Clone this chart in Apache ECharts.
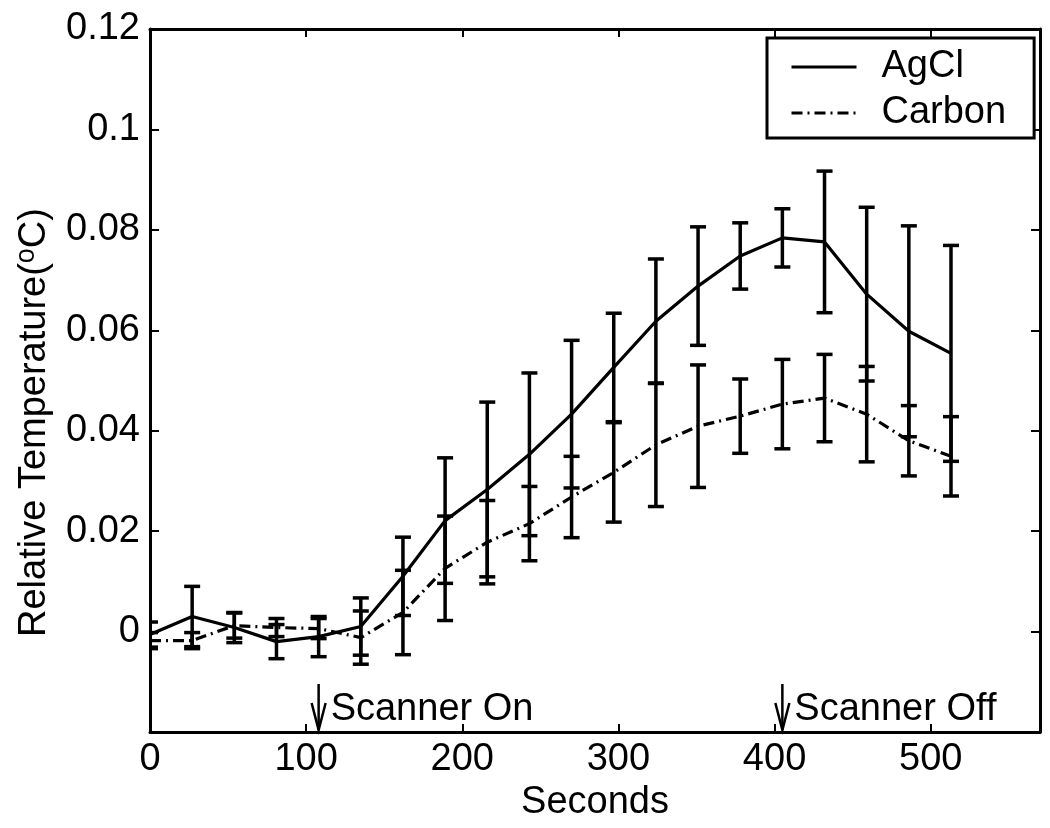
<!DOCTYPE html>
<html>
<head>
<meta charset="utf-8">
<script src="https://cdn.jsdelivr.net/npm/echarts@6/dist/echarts.min.js"></script>
<style>
html,body{margin:0;padding:0;background:#fff;}
#chart{width:1050px;height:828px;}
</style>
</head>
<body>
<div id="chart"></div>
<script>
// ---- data ----
const times = [0, 27, 54, 81, 108, 135, 162, 189, 216, 243, 270, 297, 324, 351, 378, 405, 432, 459, 486, 513];
const agclMean = [-0.0006, 0.0030, 0.0008, -0.0020, -0.0010, 0.0010, 0.0110, 0.0221, 0.0283, 0.0353, 0.0433, 0.0526, 0.0618, 0.0688, 0.0748, 0.0784, 0.0776, 0.0672, 0.0598, 0.0554];
const agclErr  = [0.0025, 0.0060, 0.0030, 0.0034, 0.0040, 0.0057, 0.0078, 0.0125, 0.0174, 0.0162, 0.0147, 0.0108, 0.0124, 0.0118, 0.0066, 0.0058, 0.0141, 0.0173, 0.0210, 0.0215];
const carbonMean = [-0.0018, -0.0018, 0.0012, 0.0008, 0.0006, -0.0012, 0.0038, 0.0126, 0.0178, 0.0215, 0.0268, 0.0317, 0.0372, 0.0409, 0.0429, 0.0453, 0.0465, 0.0433, 0.0380, 0.0349];
const carbonErr  = [0.0016, 0.0016, 0.0025, 0.0018, 0.0020, 0.0053, 0.0084, 0.0104, 0.0083, 0.0074, 0.0081, 0.0099, 0.0123, 0.0122, 0.0074, 0.0089, 0.0087, 0.0095, 0.0070, 0.0079];
const seriesNames = ['AgCl', 'Carbon'];
const scannerTimes = [108, 405];
const scannerLabels = ['Scanner On', 'Scanner Off'];
const xLabelName = 'Seconds';
const yLabelName = 'Relative Temperature({sup|o}C)';

// ---- chart ----
const FONT = 'Liberation Sans, Arial, Helvetica, sans-serif';
const chart = echarts.init(document.getElementById('chart'), null, {renderer: 'canvas'});

function errRender(params, api) {
  const x = api.value(0), lo = api.value(1), hi = api.value(2);
  const a = api.coord([x, hi]);
  const b = api.coord([x, lo]);
  const w = 8;
  const st = {stroke: '#000', lineWidth: 3.5};
  return {
    type: 'group',
    children: [
      {type: 'line', shape: {x1: a[0], y1: a[1], x2: b[0], y2: b[1]}, style: st},
      {type: 'line', shape: {x1: a[0] - w, y1: a[1], x2: a[0] + w, y2: a[1]}, style: st},
      {type: 'line', shape: {x1: b[0] - w, y1: b[1], x2: b[0] + w, y2: b[1]}, style: st}
    ]
  };
}

function annRender(params, api) {
  const x = api.value(0);
  const p = api.coord([x, api.value(1)]);
  const idx = api.value(2);
  const st = {stroke: '#000', lineWidth: 2.5, fill: null};
  return {
    type: 'group',
    children: [
      {type: 'line', shape: {x1: p[0], y1: p[1] - 48, x2: p[0], y2: p[1] - 2}, style: st},
      {type: 'polyline', shape: {points: [[p[0] - 7, p[1] - 29], [p[0], p[1] - 2], [p[0] + 7, p[1] - 29]]}, style: st},
      {type: 'text', x: p[0] + 12, y: p[1] - 22,
       style: {text: scannerLabels[idx], fontSize: 38, fontFamily: FONT, fill: '#000', align: 'left', verticalAlign: 'middle'}}
    ]
  };
}

const axisLineStyle = {color: '#000', width: 3};
const tickStyle = {color: '#000', width: 2};

const option = {
  animation: false,
  backgroundColor: '#fff',
  textStyle: {fontFamily: FONT},
  grid: {left: 150, right: 10, top: 29, bottom: 96},
  legend: {
    data: seriesNames,
    orient: 'vertical',
    left: 767,
    top: 38,
    backgroundColor: '#fff',
    borderColor: '#000',
    borderWidth: 3,
    borderRadius: 0,
    padding: [9, 28, 5, 23],
    itemWidth: 65,
    itemHeight: 14,
    itemGap: 6,
    itemStyle: {opacity: 0},
    lineStyle: {width: 3},
    textStyle: {fontSize: 38, color: '#000', fontFamily: FONT, lineHeight: 40, padding: [0, 0, 0, 20]}
  },
  xAxis: [
    {
      type: 'value', min: 0, max: 570, interval: 100, position: 'bottom',
      axisLine: {show: true, onZero: false, lineStyle: axisLineStyle},
      axisTick: {show: true, inside: true, length: 8, lineStyle: tickStyle},
      axisLabel: {fontSize: 38, color: '#000', margin: 9, showMaxLabel: false, fontFamily: FONT},
      splitLine: {show: false},
      name: xLabelName, nameLocation: 'middle', nameGap: 47,
      nameTextStyle: {fontSize: 38, color: '#000', fontFamily: FONT}
    },
    {
      type: 'value', min: 0, max: 570, interval: 100, position: 'top',
      axisLine: {show: true, onZero: false, lineStyle: axisLineStyle},
      axisTick: {show: true, inside: true, length: 8, lineStyle: tickStyle},
      axisLabel: {show: false},
      splitLine: {show: false}
    }
  ],
  yAxis: [
    {
      type: 'value', min: -0.02, max: 0.12, interval: 0.02, position: 'left',
      axisLine: {show: true, onZero: false, lineStyle: axisLineStyle},
      axisTick: {show: true, inside: true, length: 9, lineStyle: tickStyle},
      axisLabel: {
        fontSize: 38, color: '#000', margin: 10, fontFamily: FONT,
        formatter: function (v) { if (v < -0.001) return ''; return String(Math.round(v * 100) / 100); }
      },
      splitLine: {show: false},
      name: yLabelName, nameLocation: 'middle', nameGap: 81,
      nameTextStyle: {
        fontSize: 38, color: '#000', fontFamily: FONT, lineHeight: 42,
        padding: [0, 84, 0, 0],
        rich: {sup: {fontSize: 27, lineHeight: 26, verticalAlign: 'top', fontFamily: FONT, color: '#000'}}
      }
    },
    {
      type: 'value', min: -0.02, max: 0.12, interval: 0.02, position: 'right',
      axisLine: {show: true, onZero: false, lineStyle: axisLineStyle},
      axisTick: {show: true, inside: true, length: 9, lineStyle: tickStyle},
      axisLabel: {show: false},
      splitLine: {show: false}
    }
  ],
  series: [
    {
      name: seriesNames[0], type: 'line', xAxisIndex: 0, yAxisIndex: 0,
      data: times.map((t, i) => [t, agclMean[i]]),
      symbol: 'none', lineStyle: {color: '#000', width: 3.2, type: 'solid'},
      itemStyle: {color: '#000'}, z: 3
    },
    {
      name: seriesNames[1], type: 'line', xAxisIndex: 0, yAxisIndex: 0,
      data: times.map((t, i) => [t, carbonMean[i]]),
      symbol: 'none', lineStyle: {color: '#000', width: 3.2, type: [11, 5, 2, 5]},
      itemStyle: {color: '#000'}, z: 3
    },
    {
      name: 'AgCl error', type: 'custom', xAxisIndex: 0, yAxisIndex: 0,
      renderItem: errRender, clip: true,
      encode: {x: 0, y: [1, 2]},
      data: times.map((t, i) => [t, agclMean[i] - agclErr[i], agclMean[i] + agclErr[i]]), z: 4
    },
    {
      name: 'Carbon error', type: 'custom', xAxisIndex: 0, yAxisIndex: 0,
      renderItem: errRender, clip: true,
      encode: {x: 0, y: [1, 2]},
      data: times.map((t, i) => [t, carbonMean[i] - carbonErr[i], carbonMean[i] + carbonErr[i]]), z: 4
    },
    {
      name: 'Scanner', type: 'custom', xAxisIndex: 0, yAxisIndex: 0,
      renderItem: annRender, clip: false,
      encode: {x: 0, y: 1},
      data: scannerTimes.map((t, i) => [t, -0.02, i]), z: 5
    }
  ]
};
chart.setOption(option);
</script>
</body>
</html>
